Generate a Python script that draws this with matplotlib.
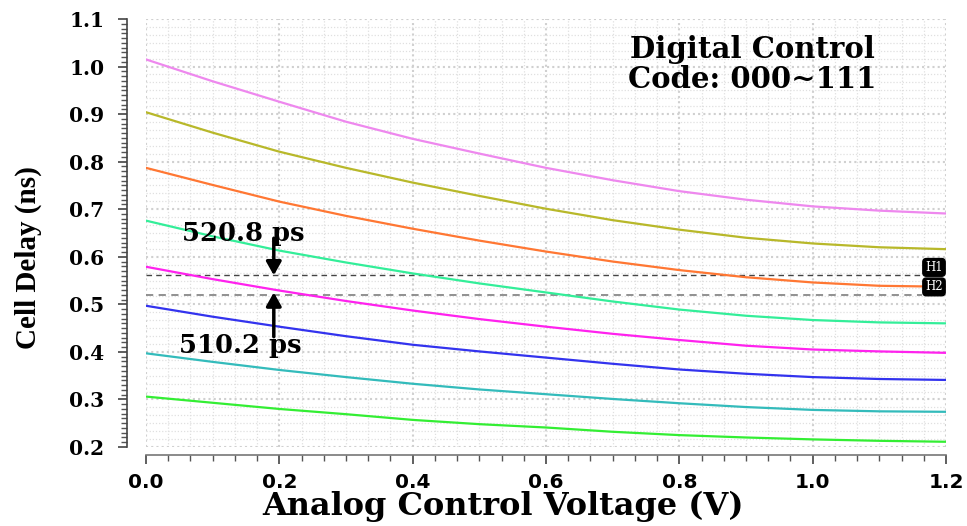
import numpy as np
import matplotlib
matplotlib.use('Agg')
from matplotlib import pyplot as plt
from matplotlib.ticker import MultipleLocator, AutoMinorLocator

# analog control voltage (V)
vctrl = [0.0, 0.1, 0.2, 0.3, 0.4, 0.5, 0.6, 0.7, 0.8, 0.9, 1.0, 1.1, 1.2]

# cell delay (ns), digital codes 111 .. 000
d111 = [1.015, 0.969, 0.926, 0.884, 0.848, 0.817, 0.787, 0.761, 0.738, 0.720, 0.706, 0.697, 0.691]
d110 = [0.904, 0.861, 0.821, 0.787, 0.756, 0.728, 0.701, 0.677, 0.657, 0.640, 0.628, 0.620, 0.616]
d101 = [0.787, 0.751, 0.716, 0.686, 0.659, 0.634, 0.611, 0.590, 0.572, 0.557, 0.546, 0.539, 0.537]
d100 = [0.676, 0.643, 0.613, 0.588, 0.565, 0.544, 0.525, 0.506, 0.489, 0.476, 0.467, 0.462, 0.460]
d011 = [0.579, 0.553, 0.529, 0.507, 0.487, 0.469, 0.453, 0.438, 0.425, 0.413, 0.405, 0.401, 0.398]
d010 = [0.497, 0.474, 0.453, 0.433, 0.415, 0.401, 0.388, 0.375, 0.363, 0.354, 0.347, 0.343, 0.341]
d001 = [0.397, 0.379, 0.362, 0.347, 0.333, 0.321, 0.311, 0.301, 0.292, 0.284, 0.278, 0.275, 0.274]
d000 = [0.306, 0.293, 0.280, 0.269, 0.257, 0.248, 0.241, 0.232, 0.225, 0.220, 0.216, 0.213, 0.211]

curves = [d111, d110, d101, d100, d011, d010, d001, d000]
colors = ['#ee88ee', '#b8b82a', '#ff7733', '#33ee99',
          '#ff22ee', '#3333ee', '#33bbbb', '#33ee33']

h1 = 0.561
h2 = 0.520

serif = 'DejaVu Serif'

fig = plt.figure(figsize=(9.67, 5.26), dpi=100)
ax = fig.add_axes([146 / 967, 79 / 526, 800 / 967, 428 / 526])

ax.set_xlim(0, 1.2)
ax.set_ylim(0.2, 1.1)

# dotted grid, major and minor
for gx in np.arange(0, 1.2 + 1e-9, 0.2 / 6):
    major = abs(gx / 0.2 - round(gx / 0.2)) < 1e-6
    ax.axvline(gx, color='#d0d0d0' if major else '#e0e0e0',
               lw=1.5 if major else 0.9, ls=(0, (1, 1.5)), zorder=0)
for gy in np.arange(0.2, 1.1 + 1e-9, 0.1 / 6):
    major = abs(gy / 0.1 - round(gy / 0.1)) < 1e-6
    ax.axhline(gy, color='#d0d0d0' if major else '#e0e0e0',
               lw=1.5 if major else 0.9, ls=(0, (1, 1.5)), zorder=0)

for d, c in zip(curves, colors):
    ax.plot(vctrl, d, color=c, lw=1.6, zorder=3)

# markers H1 / H2
ax.plot([0, 1.164], [h1, h1], color='#444444', lw=1.0, ls=(0, (4, 3)), zorder=2)
ax.plot([0, 1.164], [h2, h2], color='#888888', lw=1.3, ls=(0, (4, 3)), zorder=2)
box = dict(boxstyle='round,pad=0.2,rounding_size=0.3', fc='black', ec='black')
ax.text(1.182, h1 + 0.003, 'H1', color='white', fontsize=8.5, family=serif,
        ha='center', va='bottom', bbox=box, zorder=5)
ax.text(1.182, h2 + 0.003, 'H2', color='white', fontsize=8.5, family=serif,
        ha='center', va='bottom', bbox=box, zorder=5)

# annotations
arrow = dict(arrowstyle='-|>,head_length=0.8,head_width=0.45',
             color='black', lw=2.5, shrinkA=0, shrinkB=0)
ax.annotate('', xy=(0.1917, h1), xytext=(0.1917, 0.639), arrowprops=arrow, zorder=6)
ax.annotate('', xy=(0.1917, 0.525), xytext=(0.1917, 0.432), arrowprops=arrow, zorder=6)
ax.text(0.054, 0.633, '520.8 ps', family=serif, fontweight='bold', fontsize=18.5,
        ha='left', va='baseline', zorder=7)
ax.text(0.050, 0.397, '510.2 ps', family=serif, fontweight='bold', fontsize=18.5,
        ha='left', va='baseline', zorder=7)

ax.text(0.91, 1.018, 'Digital Control', family=serif, fontweight='bold',
        fontsize=21, ha='center', va='baseline', zorder=7)
ax.text(0.91, 0.955, 'Code: 000~111', family=serif, fontweight='bold',
        fontsize=21, ha='center', va='baseline', zorder=7)

# axes styling
for s in ['top', 'right']:
    ax.spines[s].set_visible(False)
ax.spines['left'].set_position(('outward', 13.5))
ax.spines['bottom'].set_position(('outward', 5.5))
ax.spines['left'].set_color('#444444')
ax.spines['bottom'].set_color('#777777')
ax.spines['left'].set_linewidth(1.2)
ax.spines['bottom'].set_linewidth(1.2)

ax.xaxis.set_major_locator(MultipleLocator(0.2))
ax.xaxis.set_minor_locator(AutoMinorLocator(6))
ax.yaxis.set_major_locator(MultipleLocator(0.1))
ax.yaxis.set_minor_locator(AutoMinorLocator(10))
ax.tick_params(axis='both', which='major', direction='out', length=6.5,
               width=1.2, color='#444444')
ax.tick_params(axis='both', which='minor', direction='out', length=4.5,
               width=1.0, color='#555555')
ax.tick_params(axis='x', which='major', pad=7)
ax.tick_params(axis='y', which='major', pad=10)

ax.set_xticks(ax.get_xticks())
ax.set_xticklabels([f'{v:.1f}' for v in ax.get_xticks()],
                   family='DejaVu Sans', fontweight='bold', fontsize=14.5)
ax.set_yticks(ax.get_yticks())
ax.set_yticklabels([f'{v:.1f}' for v in ax.get_yticks()],
                   family=serif, fontweight='bold', fontsize=14.5)
ax.set_xlim(0, 1.2)
ax.set_ylim(0.2, 1.1)

ax.set_xlabel('Analog Control Voltage (V)', family=serif, fontweight='bold',
              fontsize=23)
ax.xaxis.set_label_coords(0.446, -0.159)
ax.xaxis.label.set_va('baseline')
ax.set_ylabel('Cell Delay (ns)', family='Liberation Serif', fontweight='bold',
              fontsize=21)
ax.yaxis.set_label_coords(-0.1475, 0.4416)
ax.yaxis.label.set_va('center')

fig.savefig('out.png', dpi=100)
